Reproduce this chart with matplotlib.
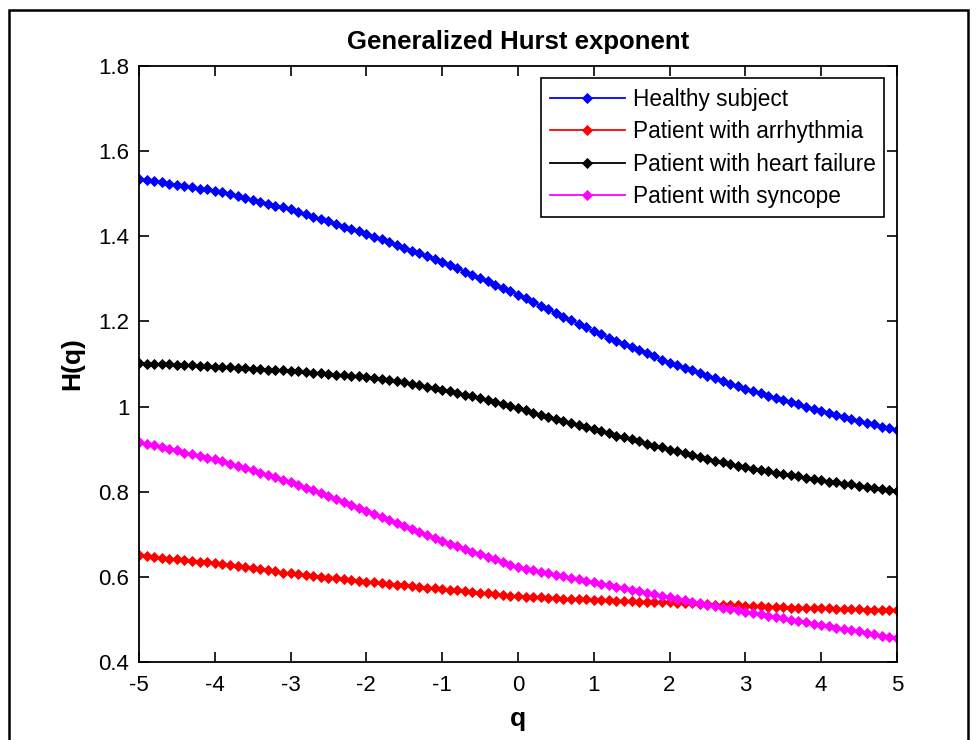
import matplotlib
matplotlib.use("Agg")
import matplotlib.pyplot as plt
import numpy as np
from matplotlib.patches import Rectangle

plt.rcParams['font.family'] = ['Liberation Sans', 'DejaVu Sans']
plt.rcParams['axes.unicode_minus'] = False

# q grid (-5..5, step 0.1)
q = np.round(np.arange(-50, 51) / 10.0, 1)

# H(q), every 0.1 in q
healthy = [
    1.535, 1.533, 1.530, 1.527, 1.524, 1.521, 1.518, 1.515, 1.512, 1.510,
    1.507, 1.503, 1.499, 1.494, 1.490, 1.486, 1.481, 1.477, 1.472, 1.468,
    1.463, 1.457, 1.452, 1.446, 1.440, 1.435, 1.429, 1.423, 1.418, 1.412,
    1.406, 1.399, 1.393, 1.386, 1.380, 1.373, 1.366, 1.360, 1.353, 1.347,
    1.340, 1.332, 1.325, 1.317, 1.309, 1.302, 1.294, 1.286, 1.278, 1.271,
    1.263, 1.254, 1.246, 1.237, 1.229, 1.220, 1.211, 1.203, 1.194, 1.186,
    1.177, 1.170, 1.162, 1.155, 1.147, 1.140, 1.133, 1.125, 1.118, 1.110,
    1.103, 1.097, 1.091, 1.085, 1.079, 1.073, 1.066, 1.060, 1.054, 1.048,
    1.042, 1.037, 1.031, 1.026, 1.021, 1.016, 1.010, 1.005, 1.000, 0.994,
    0.989, 0.985, 0.980, 0.976, 0.971, 0.967, 0.962, 0.958, 0.953, 0.949,
    0.944]

arrhythmia = [
    0.651, 0.649, 0.647, 0.645, 0.643, 0.641, 0.640, 0.638, 0.636, 0.634,
    0.632, 0.630, 0.627, 0.625, 0.622, 0.620, 0.618, 0.615, 0.613, 0.610,
    0.608, 0.606, 0.604, 0.602, 0.600, 0.598, 0.597, 0.595, 0.593, 0.591,
    0.589, 0.587, 0.585, 0.584, 0.582, 0.580, 0.578, 0.576, 0.575, 0.573,
    0.571, 0.569, 0.568, 0.566, 0.564, 0.562, 0.561, 0.559, 0.557, 0.556,
    0.554, 0.553, 0.552, 0.552, 0.551, 0.550, 0.549, 0.548, 0.548, 0.547,
    0.546, 0.545, 0.545, 0.544, 0.544, 0.543, 0.542, 0.542, 0.541, 0.541,
    0.540, 0.539, 0.538, 0.538, 0.537, 0.536, 0.535, 0.534, 0.534, 0.533,
    0.532, 0.531, 0.531, 0.530, 0.530, 0.529, 0.528, 0.528, 0.527, 0.527,
    0.526, 0.526, 0.525, 0.525, 0.524, 0.524, 0.523, 0.523, 0.523, 0.522,
    0.522]

heart_failure = [
    1.102, 1.101, 1.101, 1.100, 1.099, 1.098, 1.097, 1.097, 1.096, 1.095,
    1.094, 1.093, 1.092, 1.091, 1.090, 1.089, 1.088, 1.087, 1.086, 1.085,
    1.084, 1.083, 1.081, 1.080, 1.078, 1.077, 1.075, 1.074, 1.072, 1.071,
    1.069, 1.067, 1.065, 1.062, 1.060, 1.057, 1.054, 1.051, 1.047, 1.044,
    1.040, 1.036, 1.032, 1.028, 1.024, 1.019, 1.015, 1.010, 1.006, 1.001,
    0.996, 0.991, 0.986, 0.981, 0.976, 0.971, 0.966, 0.961, 0.956, 0.952,
    0.947, 0.942, 0.937, 0.932, 0.928, 0.923, 0.918, 0.913, 0.908, 0.904,
    0.899, 0.895, 0.890, 0.886, 0.882, 0.878, 0.873, 0.869, 0.865, 0.861,
    0.857, 0.854, 0.851, 0.848, 0.845, 0.842, 0.839, 0.836, 0.833, 0.830,
    0.827, 0.824, 0.822, 0.819, 0.817, 0.814, 0.812, 0.809, 0.807, 0.804,
    0.802]

syncope = [
    0.917, 0.913, 0.909, 0.905, 0.901, 0.897, 0.892, 0.888, 0.884, 0.880,
    0.876, 0.871, 0.865, 0.860, 0.855, 0.850, 0.844, 0.839, 0.834, 0.828,
    0.823, 0.816, 0.809, 0.803, 0.796, 0.789, 0.782, 0.775, 0.769, 0.762,
    0.755, 0.748, 0.741, 0.734, 0.727, 0.720, 0.712, 0.705, 0.698, 0.691,
    0.684, 0.678, 0.672, 0.665, 0.659, 0.653, 0.647, 0.641, 0.634, 0.628,
    0.622, 0.618, 0.615, 0.611, 0.608, 0.604, 0.601, 0.597, 0.594, 0.590,
    0.587, 0.584, 0.580, 0.577, 0.573, 0.570, 0.567, 0.563, 0.560, 0.556,
    0.553, 0.549, 0.546, 0.542, 0.539, 0.535, 0.532, 0.528, 0.525, 0.521,
    0.518, 0.515, 0.512, 0.509, 0.506, 0.503, 0.499, 0.496, 0.493, 0.490,
    0.487, 0.484, 0.481, 0.478, 0.475, 0.472, 0.468, 0.465, 0.462, 0.459,
    0.456]

labels = ['Healthy subject', 'Patient with arrhythmia',
          'Patient with heart failure', 'Patient with syncope']
colors = ['#0000ff', '#ff0000', '#000000', '#ff00ff']

fig = plt.figure(figsize=(9.76, 7.40), dpi=100)
ax = fig.add_axes([0.1424, 0.1054, 0.7766, 0.8054])

for ys, lab, c in zip([healthy, arrhythmia, heart_failure, syncope], labels, colors):
    ax.plot(q, ys, '-', color=c, lw=1.3, marker='D', markersize=4.6,
            markeredgewidth=0.6, label=lab)

ax.set_xlim(-5, 5)
ax.set_ylim(0.4, 1.8)
ax.set_xticks(np.arange(-5, 6, 1))
ax.set_yticks([0.4, 0.6, 0.8, 1.0, 1.2, 1.4, 1.6, 1.8])
ax.set_yticklabels(['0.4', '0.6', '0.8', '1', '1.2', '1.4', '1.6', '1.8'])
ax.tick_params(direction='in', length=7, width=1.2, top=True, right=True,
               labelsize=16)
ax.tick_params(axis='x', pad=9)
ax.tick_params(axis='y', pad=7)
for s in ax.spines.values():
    s.set_linewidth(1.3)

ax.set_title('Generalized Hurst exponent', fontsize=18.5, fontweight='bold', pad=12)
ax.set_xlabel('q', fontsize=19, fontweight='bold', labelpad=8)
ax.set_ylabel('H(q)', fontsize=19, fontweight='bold', labelpad=10)

leg = ax.legend(loc='upper right', fontsize=16.3, fancybox=False, framealpha=1,
                edgecolor='black', handlelength=3.3, borderaxespad=0.55,
                labelspacing=0.42, handletextpad=0.35, borderpad=0.4)
leg.get_frame().set_linewidth(1.2)

# outer frame of the picture
fig.patches.append(Rectangle((9 / 976, -0.02), 959 / 976, 1 - 10 / 740 + 0.02,
                             transform=fig.transFigure, fill=False,
                             edgecolor='black', lw=1.8))

fig.savefig('out.png', dpi=100)
